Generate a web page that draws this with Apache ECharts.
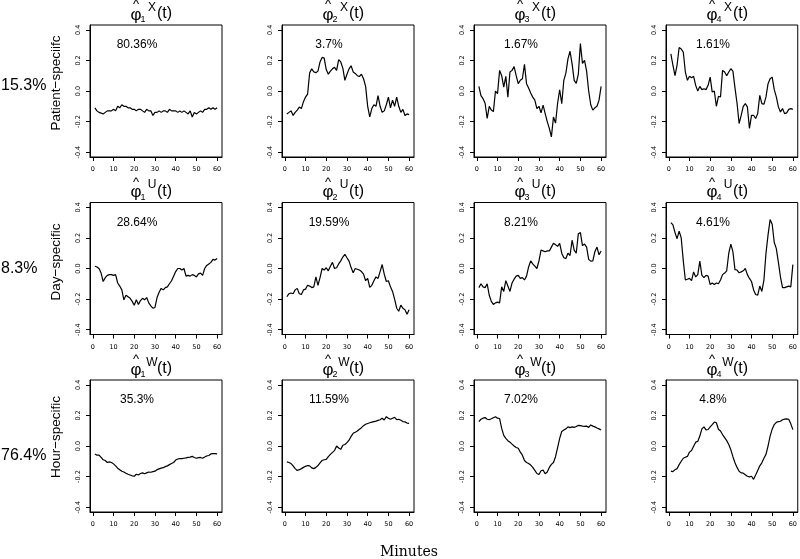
<!DOCTYPE html>
<html>
<head>
<meta charset="utf-8">
<script src="https://cdn.jsdelivr.net/npm/echarts@6/dist/echarts.min.js"></script>
<style>
html,body{margin:0;padding:0;background:#fff}
#main{width:800px;height:559px}
</style>
</head>
<body>
<div id="main"></div>
<script>
// eigenfunctions, one value per minute (1..60)
var phiX1 = [-0.11,-0.13,-0.14,-0.145,-0.15,-0.14,-0.13,-0.13,-0.13,-0.12,-0.13,-0.10,-0.11,-0.09,-0.10,-0.10,-0.11,-0.11,-0.12,-0.12,
  -0.13,-0.12,-0.12,-0.13,-0.14,-0.12,-0.13,-0.13,-0.16,-0.14,-0.14,-0.13,-0.14,-0.13,-0.13,-0.14,-0.12,-0.13,-0.13,-0.13,
  -0.14,-0.13,-0.14,-0.13,-0.14,-0.15,-0.13,-0.17,-0.14,-0.15,-0.14,-0.13,-0.14,-0.12,-0.12,-0.11,-0.12,-0.11,-0.12,-0.11];
var phiX2 = [-0.15,-0.14,-0.13,-0.16,-0.14,-0.125,-0.105,-0.115,-0.07,-0.04,-0.02,0.12,0.145,0.125,0.12,0.13,0.19,0.22,0.215,0.14,
  0.11,0.13,0.145,0.155,0.135,0.205,0.19,0.15,0.07,0.11,0.145,0.165,0.125,0.115,0.10,0.095,0.11,0.08,0.03,-0.10,
  -0.17,-0.115,-0.09,-0.10,-0.03,-0.10,-0.14,-0.13,-0.09,-0.04,-0.11,-0.06,-0.10,-0.04,-0.10,-0.14,-0.12,-0.16,-0.15,-0.155];
var phiX3 = [0.03,-0.03,-0.05,-0.08,-0.18,-0.10,-0.125,-0.135,0.0,-0.017,0.135,0.10,0.026,0.096,-0.04,0.124,0.135,0.16,0.10,0.048,
  0.07,0.08,0.174,0.048,0.02,-0.013,-0.04,-0.06,-0.115,-0.10,-0.143,-0.093,-0.148,-0.20,-0.245,-0.30,-0.17,-0.21,-0.08,0.008,
  -0.083,0.07,0.117,0.21,0.26,0.178,0.07,0.05,0.11,0.31,0.18,0.20,0.13,0.0,-0.09,-0.125,-0.11,-0.10,-0.06,0.03];
var phiX4 = [0.243,0.167,0.10,0.17,0.285,0.275,0.255,0.124,0.07,0.096,0.087,0.096,0.037,0.0,0.03,0.009,0.015,0.009,0.037,0.091,
  -0.007,0.0,-0.10,-0.035,-0.039,0.135,0.124,0.10,0.124,0.146,0.13,0.02,-0.08,-0.213,-0.16,-0.10,-0.083,-0.104,-0.245,-0.159,
  -0.159,-0.18,-0.148,-0.028,-0.083,-0.087,-0.039,0.048,0.08,0.091,0.009,-0.039,-0.104,-0.137,-0.115,-0.148,-0.143,-0.12,-0.115,-0.12];
var phiU1 = [0.015,0.01,0.0,-0.03,-0.085,-0.06,-0.045,-0.04,-0.04,-0.045,-0.04,-0.095,-0.115,-0.14,-0.205,-0.175,-0.185,-0.195,-0.215,-0.24,
  -0.205,-0.235,-0.21,-0.195,-0.205,-0.19,-0.225,-0.245,-0.26,-0.255,-0.19,-0.155,-0.13,-0.14,-0.125,-0.12,-0.10,-0.08,-0.05,-0.02,
  0.0,0.0,-0.01,0.0,-0.05,-0.045,-0.05,-0.04,-0.045,-0.055,-0.035,-0.03,-0.045,0.0,0.02,0.03,0.04,0.06,0.055,0.065];
var phiU2 = [-0.185,-0.165,-0.16,-0.165,-0.14,-0.13,-0.165,-0.17,-0.14,-0.135,-0.11,-0.115,-0.125,-0.12,-0.055,-0.11,-0.06,0.0,-0.01,0.005,
  -0.015,0.015,0.04,0.0,0.005,0.03,0.05,0.075,0.093,0.07,0.048,0.006,-0.028,0.0,-0.005,-0.01,-0.02,-0.037,-0.08,-0.065,
  -0.124,-0.11,-0.08,-0.055,-0.065,-0.02,0.026,-0.037,-0.085,-0.08,-0.12,-0.15,-0.20,-0.26,-0.28,-0.24,-0.26,-0.27,-0.30,-0.27];
var phiU3 = [-0.125,-0.10,-0.12,-0.125,-0.10,-0.175,-0.215,-0.235,-0.225,-0.22,-0.225,-0.12,-0.15,-0.08,-0.115,-0.15,-0.095,-0.07,-0.05,-0.045,
  -0.065,-0.06,-0.075,-0.05,0.01,0.05,0.03,0.015,0.0,0.05,0.12,0.115,0.11,0.115,0.115,0.14,0.165,0.155,0.145,0.165,
  0.10,0.07,0.065,0.10,0.085,0.185,0.12,0.10,0.228,0.235,0.15,0.16,0.14,0.06,0.048,0.05,0.11,0.14,0.09,0.115];
var phiU4 = [0.30,0.285,0.235,0.195,0.245,0.20,0.05,-0.075,-0.07,-0.065,-0.08,-0.022,-0.055,-0.04,0.048,-0.045,-0.06,-0.045,-0.05,-0.105,
  -0.095,-0.105,-0.095,-0.10,-0.075,-0.04,-0.03,-0.015,0.10,0.16,0.11,-0.007,-0.01,-0.028,-0.022,-0.015,0.0,-0.04,-0.065,-0.085,
  -0.14,-0.17,-0.175,-0.115,-0.15,-0.076,0.10,0.22,0.32,0.29,0.17,0.13,0.04,-0.055,-0.125,-0.125,-0.12,-0.115,-0.12,0.025];
var phiW1 = [-0.052,-0.06,-0.06,-0.075,-0.09,-0.095,-0.108,-0.104,-0.108,-0.117,-0.13,-0.145,-0.155,-0.165,-0.17,-0.178,-0.185,-0.19,-0.195,-0.198,
  -0.185,-0.19,-0.18,-0.176,-0.182,-0.176,-0.17,-0.172,-0.168,-0.165,-0.155,-0.15,-0.145,-0.142,-0.135,-0.13,-0.122,-0.115,-0.108,-0.092,
  -0.085,-0.083,-0.083,-0.08,-0.078,-0.075,-0.073,-0.068,-0.075,-0.08,-0.076,-0.075,-0.08,-0.072,-0.065,-0.062,-0.052,-0.05,-0.05,-0.052];
var phiW2 = [-0.104,-0.108,-0.115,-0.13,-0.148,-0.16,-0.155,-0.148,-0.14,-0.133,-0.128,-0.13,-0.143,-0.148,-0.14,-0.128,-0.11,-0.095,-0.09,-0.088,
  -0.07,-0.055,-0.042,-0.03,0.0,-0.013,-0.022,0.005,0.01,0.022,0.038,0.063,0.083,0.09,0.098,0.11,0.12,0.133,0.142,0.147,
  0.152,0.156,0.16,0.163,0.168,0.172,0.182,0.17,0.192,0.182,0.175,0.182,0.187,0.172,0.175,0.168,0.16,0.158,0.15,0.148];
var phiW3 = [0.16,0.175,0.182,0.186,0.175,0.172,0.178,0.185,0.192,0.182,0.18,0.115,0.07,0.05,0.035,0.025,0.012,0.0,-0.01,-0.015,
  -0.04,-0.06,-0.095,-0.108,-0.115,-0.125,-0.14,-0.16,-0.18,-0.187,-0.162,-0.158,-0.182,-0.17,-0.14,-0.12,-0.108,-0.07,-0.01,0.05,
  0.095,0.105,0.112,0.125,0.12,0.125,0.122,0.128,0.135,0.133,0.13,0.128,0.13,0.122,0.138,0.13,0.125,0.118,0.112,0.105];
var phiW4 = [-0.165,-0.168,-0.155,-0.148,-0.122,-0.10,-0.08,-0.074,-0.068,-0.04,-0.03,-0.002,0.025,0.03,0.065,0.112,0.125,0.105,0.108,0.125,
  0.14,0.157,0.152,0.11,0.098,0.075,0.055,0.035,0.01,-0.025,-0.07,-0.11,-0.14,-0.165,-0.176,-0.178,-0.188,-0.198,-0.202,-0.198,
  -0.218,-0.19,-0.16,-0.13,-0.11,-0.08,-0.055,0.0,0.065,0.11,0.14,0.155,0.16,0.162,0.172,0.176,0.178,0.175,0.145,0.107];

var panels = [[phiX1, phiX2, phiX3, phiX4], [phiU1, phiU2, phiU3, phiU4], [phiW1, phiW2, phiW3, phiW4]];
var panelShare = [['80.36%','3.7%','1.67%','1.61%'], ['28.64%','19.59%','8.21%','4.61%'], ['35.3%','11.59%','7.02%','4.8%']];
var rowShare = ['15.3%','8.3%','76.4%'];
var rowNames = ['Patient\u2212speciifc','Day\u2212specific','Hour\u2212specific'];
var rowSup = ['X','U','W'];
var xTicks = [0,10,20,30,40,50,60];
var yTicks = [-0.4,-0.2,0,0.2,0.4];

var minutes = [];
for (var m = 1; m <= 60; m++) minutes.push(m);

var colLeft = [90, 282, 474, 666];
var rowTop = [25, 202.5, 380];
var rowShareY = [86, 269, 456];
var rowNameY = [83, 262, 437];
var box = 132;

var chart = echarts.init(document.getElementById('main'));
var grids = [], xAxes = [], yAxes = [], series = [], graphics = [];
var blk = '#000';
var f = 'Liberation Sans, Arial, sans-serif';

panels.forEach(function (row, r) {
    graphics.push({type:'text', x:1, y:rowShareY[r], style:{text:rowShare[r], fontSize:16, fontFamily:f, fill:blk, textAlign:'left', textVerticalAlign:'middle'}});
    graphics.push({type:'text', x:56, y:rowNameY[r], rotation:Math.PI/2, style:{text:rowNames[r], fontSize:13.5, fontFamily:f, fill:blk, textAlign:'center', textVerticalAlign:'middle'}});
    row.forEach(function (vals, c) {
        var i = r * 4 + c;
        var left = colLeft[c], top = rowTop[r], cx = left + box / 2;
        grids.push({left:left, top:top, width:box, height:box, show:true, borderColor:blk, borderWidth:1, backgroundColor:'transparent'});
        xAxes.push({
            type:'value', gridIndex:i, min:-1.36, max:62.36,
            axisLine:{show:true, onZero:false, lineStyle:{color:blk, width:1}},
            axisTick:{show:true, length:4, customValues:xTicks, lineStyle:{color:blk}},
            axisLabel:{customValues:xTicks, fontSize:6.5, color:blk, margin:9, fontFamily:'DejaVu Sans'},
            splitLine:{show:false}
        });
        yAxes.push({
            type:'value', gridIndex:i, min:-0.432, max:0.432,
            axisLine:{show:true, onZero:false, lineStyle:{color:blk, width:1}},
            axisTick:{show:true, length:4, customValues:yTicks, lineStyle:{color:blk}},
            axisLabel:{customValues:yTicks, rotate:90, fontSize:6.5, color:blk, margin:8, fontFamily:'DejaVu Sans',
                formatter:function (v) { return v.toFixed(1); }},
            splitLine:{show:false}
        });
        series.push({
            type:'line', xAxisIndex:i, yAxisIndex:i, showSymbol:false, silent:true,
            data:minutes.map(function (t, k) { return [t, vals[k]]; }),
            lineStyle:{color:blk, width:1.2}
        });
        // title: phi-hat_c ^ {X/U/W} (t)
        graphics.push({type:'text', x:cx-20, y:top-10, style:{text:'\u03c6', fontSize:17, fontFamily:f, fill:blk, textAlign:'center', textVerticalAlign:'middle'}});
        graphics.push({type:'text', x:cx-20, y:top-20.5, style:{text:'^', fontSize:13, fontFamily:f, fill:blk, textAlign:'center', textVerticalAlign:'middle'}});
        graphics.push({type:'text', x:cx-13, y:top-5, style:{text:String(c+1), fontSize:9, fontFamily:f, fill:blk, textAlign:'center', textVerticalAlign:'middle'}});
        graphics.push({type:'text', x:cx-4, y:top-17.5, style:{text:rowSup[r], fontSize:12, fontFamily:f, fill:blk, textAlign:'center', textVerticalAlign:'middle'}});
        graphics.push({type:'text', x:cx+8.5, y:top-11, style:{text:'(t)', fontSize:16, fontFamily:f, fill:blk, textAlign:'center', textVerticalAlign:'middle'}});
        graphics.push({type:'text', x:left+47, y:top+20, style:{text:panelShare[r][c], fontSize:12, fontFamily:f, fill:blk, textAlign:'center', textVerticalAlign:'middle'}});
    });
});

graphics.push({type:'text', x:409, y:552, style:{text:'Minutes', fontSize:14, fontFamily:'DejaVu Serif, serif', fill:blk, textAlign:'center', textVerticalAlign:'middle'}});

chart.setOption({
    animation:false,
    backgroundColor:'#fff',
    grid:grids,
    xAxis:xAxes,
    yAxis:yAxes,
    series:series,
    graphic:graphics
});
</script>
</body>
</html>
